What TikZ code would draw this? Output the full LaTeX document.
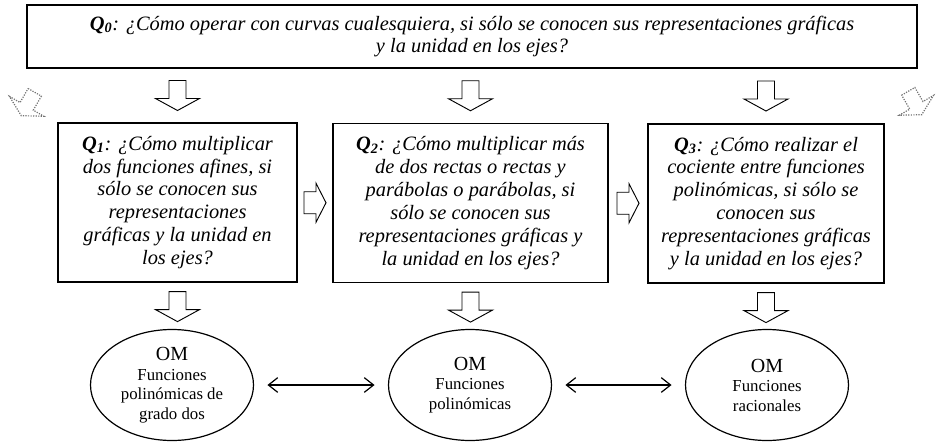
\documentclass[tikz,border=0pt]{standalone}
\usepackage{fontspec}
\setmainfont{Liberation Serif}
\usetikzlibrary{shapes.geometric,arrows.meta,calc}
\newcommand\qlab[1]{\textbf{Q\textsubscript{#1}}}
\newcommand\omlab{{\fontsize{15}{15}\selectfont OM}}
\tikzset{
  qbox/.style={draw, line width=0.9pt, inner sep=0pt, align=center,
    font=\fontsize{15.3}{17.2}\selectfont\itshape},
  omell/.style={ellipse, draw, line width=0.9pt, inner sep=0pt, align=center,
    minimum width=122.25pt, minimum height=83.25pt,
    font=\fontsize{12.6}{14.6}\selectfont},
  blockline/.style={draw=black, line width=0.7pt, fill=white, line join=miter},
  dotline/.style={draw=black!55, line width=0.9pt, densely dotted, fill=white},
  link/.style={{Straight Barb[length=7pt,width=11pt]}-{Straight Barb[length=7pt,width=11pt]},
    line width=0.9pt, shorten <=10pt, shorten >=10pt},
  pics/downblock/.style={code={
    \path[#1] (-8.5,-15) -- (8.5,-15) -- (8.5,3) -- (22,3) -- (0,15)
      -- (-22,3) -- (-8.5,3) -- cycle;}},
  pics/rightblock/.style={code={
    \path[#1] (-11,-11) -- (1,-11) -- (1,-19.5) -- (11,0) -- (1,19.5)
      -- (1,11) -- (-11,11) -- cycle;}},
}
\begin{document}
\begin{tikzpicture}[x=0.75pt,y=-0.75pt]
\useasboundingbox (0,0) rectangle (938,443);

\node[qbox, minimum width=667.5pt, minimum height=47.25pt] (q0) at (472,36.5)
  {\qlab{0}: ¿Cómo operar con curvas cualesquiera, si sólo se conocen sus representaciones gráficas\\y la unidad en los ejes?};

\node[qbox, minimum width=179.25pt, minimum height=119.25pt] (q1) at (177.5,202.5)
  {\qlab{1}: ¿Cómo multiplicar\\dos funciones afines, si\\sólo se conocen sus\\representaciones\\gráficas y la unidad en\\los ejes?};
\node[qbox, minimum width=206.25pt, minimum height=119.25pt] (q2) at (470.5,203)
  {\qlab{2}: ¿Cómo multiplicar más\\de dos rectas o rectas y\\parábolas o parábolas, si\\sólo se conocen sus\\representaciones gráficas y\\la unidad en los ejes?};
\node[qbox, minimum width=177pt, minimum height=119.25pt] (q3) at (766,203.5)
  {\qlab{3}: ¿Cómo realizar el\\cociente entre funciones\\polinómicas, si sólo se\\conocen sus\\representaciones gráficas\\y la unidad en los ejes?};

\node[omell] (om1) at (172,385) {\omlab\\Funciones\\polinómicas de\\grado dos};
\node[omell] (om2) at (470,385) {\omlab\\Funciones\\polinómicas};
\node[omell] (om3) at (767,385) {\omlab\\Funciones\\racionales};

% block arrows from Q0 to the questions
\foreach \q in {q1,q2,q3}{
  \pic at ($(q0.south -| \q.north)!0.5!(\q.north)$) {downblock=blockline};
  \pic at ($(\q.south)+(0,24)$) {downblock=blockline};
}
% block arrows between questions
\pic at ($(q1.east)!0.5!(q2.west)$) {rightblock=blockline};
\pic at ($(q2.east)!0.5!(q3.west)$) {rightblock=blockline};

% dotted arrows to other questions
\pic[rotate=-30, scale=0.9] at (28,104) {downblock=dotline};
\pic[rotate=30, scale=0.9] at (915,103) {downblock=dotline};

% links between praxeologies
\draw[link] (om1.east) -- (om2.west);
\draw[link] (om2.east) -- (om3.west);
\end{tikzpicture}
\end{document}
